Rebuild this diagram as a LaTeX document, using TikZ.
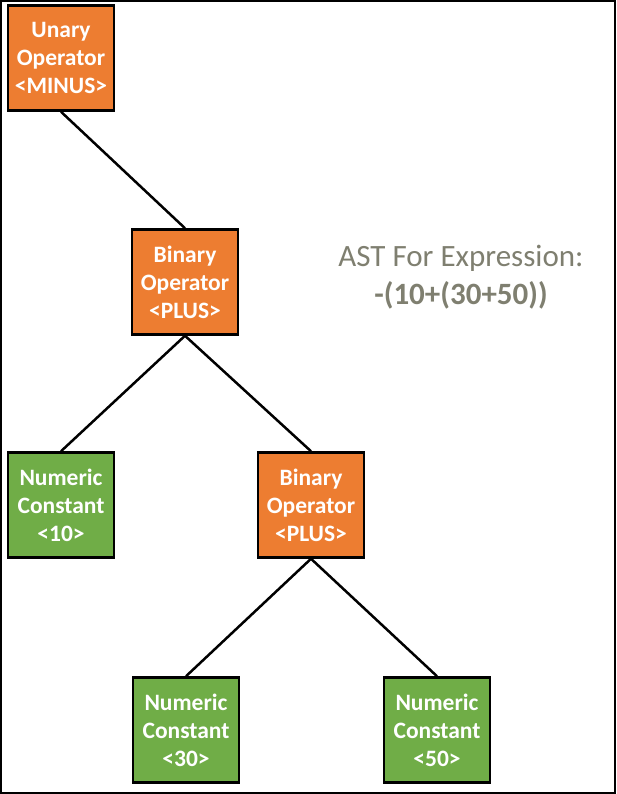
\documentclass[tikz,border=0pt]{standalone}
\usepackage{fontspec}
\setmainfont{Carlito}
\usepackage{tikz}
\usetikzlibrary{positioning}
\definecolor{opOrange}{RGB}{237,125,49}
\definecolor{numGreen}{RGB}{112,173,71}
\definecolor{noteGray}{RGB}{127,127,112}
\tikzset{
  astOp/.style={draw=black, fill=opOrange, line width=2.5pt,
    minimum width=106pt, minimum height=105pt, inner sep=0pt,
    font=\fontsize{23.5}{28}\selectfont\bfseries, align=center, text=white},
  astNum/.style={draw=black, fill=numGreen, line width=2.5pt,
    minimum width=106pt, minimum height=105pt, inner sep=0pt,
    font=\fontsize{23.5}{28}\selectfont\bfseries, align=center, text=white},
  %% Tree edges
  astEdge/.style={line width=2.5pt, black},
  %% Caption
  astNote/.style={font=\fontsize{31}{38}\selectfont, align=center, text=noteGray},
}

\begin{document}
\begin{tikzpicture}[x=1pt, y=1pt]
\useasboundingbox (0,0) rectangle (616,-794);
\draw[line width=2pt] (1,-1) rectangle (615,-793);

%% Operators
\node[astOp]  (nMinus) at ( 61, -58) {Unary\\Operator\\<MINUS>};
\node[astOp]  (nPlusA) at (185,-282) {Binary\\Operator\\<PLUS>};
\node[astOp]  (nPlusB) at (311,-505) {Binary\\Operator\\<PLUS>};

%% Constants
\node[astNum] (n10)    at ( 61,-505) {Numeric\\Constant\\<10>};
\node[astNum] (n30)    at (186,-730) {Numeric\\Constant\\<30>};
\node[astNum] (n50)    at (437,-730) {Numeric\\Constant\\<50>};

\draw[astEdge] (nMinus.south) -- (nPlusA.north);
\draw[astEdge] (nPlusA.south) -- (n10.north);
\draw[astEdge] (nPlusA.south) -- (nPlusB.north);
\draw[astEdge] (nPlusB.south) -- (n30.north);
\draw[astEdge] (nPlusB.south) -- (n50.north);

\node[astNote] (caption) at (461,-277) {AST For Expression:\\\textbf{-(10+(30+50))}};

\end{tikzpicture}
\end{document}
